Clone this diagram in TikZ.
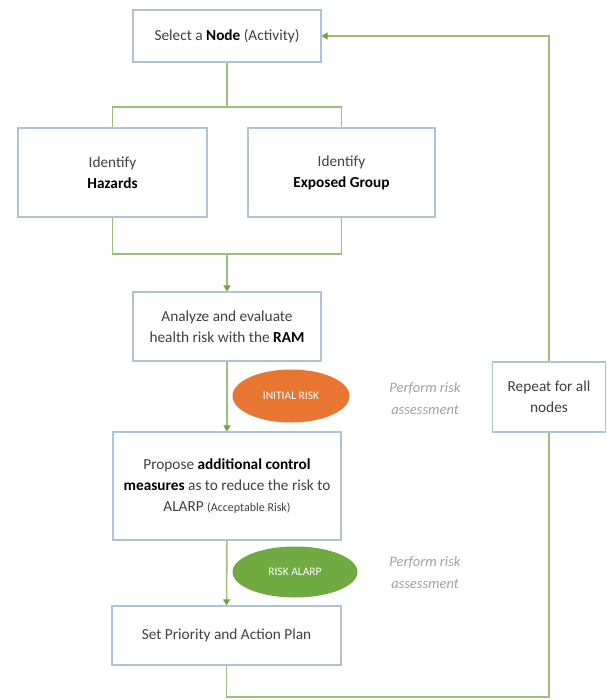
\documentclass[tikz,border=0pt]{standalone}
\usepackage{fontspec}
\setmainfont{Carlito}
\usetikzlibrary{arrows.meta,shapes.geometric}
\definecolor{boxline}{RGB}{176,194,214}
\definecolor{conn}{RGB}{158,190,128}
\definecolor{tipc}{RGB}{110,160,70}
\definecolor{txt}{RGB}{64,64,64}
\definecolor{orangefill}{RGB}{232,118,50}
\definecolor{greenfill}{RGB}{112,170,64}
\definecolor{perfgray}{RGB}{160,160,160}
\begin{document}
\begin{tikzpicture}[x=1pt,y=1pt,
  box/.style={draw=boxline,line width=1.2pt,fill=white,rectangle,align=center,
    inner sep=0pt,text=txt,font=\fontsize{15.3}{21}\selectfont},
  conline/.style={draw=conn,line width=1.5pt},
  arr/.style={conline,-{Triangle[width=7pt,length=6pt,color=tipc]}},
  oval/.style={ellipse,inner sep=0pt,text=white,font=\fontsize{11.5}{13}\selectfont},
  perf/.style={align=center,text=perfgray,font=\fontsize{14.5}{22}\selectfont\itshape}]
\useasboundingbox (0,0) rectangle (606,-700);
\node[box,minimum width=188pt,minimum height=52pt] (sel) at (227,-36) {Select a \textbf{\color{black}Node} (Activity)};
\node[box,minimum width=189pt,minimum height=89pt] (haz) at (112.5,-172.5) {Identify\\\textbf{\color{black}Hazards}};
\node[box,minimum width=187pt,minimum height=89pt] (exp) at (341.5,-172.5) {Identify\\\textbf{\color{black}Exposed Group}};
\node[box,minimum width=188pt,minimum height=69pt] (ana) at (227,-326.5) {Analyze and evaluate\\health risk with the \textbf{\color{black}RAM}};
\node[box,minimum width=228pt,minimum height=108pt] (prop) at (227,-486) {Propose \textbf{\color{black}additional control}\\\textbf{\color{black}measures} as to reduce the risk to\\ALARP {\fontsize{12}{14}\selectfont(Acceptable Risk)}};
\node[box,minimum width=229pt,minimum height=59pt] (setp) at (226.5,-635.5) {Set Priority and Action Plan};
\node[box,minimum width=113pt,minimum height=70pt] (rep) at (549,-397) {Repeat for all\\nodes};
\node[oval,fill=orangefill,minimum width=117pt,minimum height=53pt] (ini) at (291,-396) {INITIAL RISK};
\node[oval,fill=greenfill,minimum width=125pt,minimum height=51pt] (alarp) at (295,-572) {RISK ALARP};
\node[perf] (perf1) at (425,-399) {Perform risk\\assessment};
\node[perf] (perf2) at (425,-573) {Perform risk\\assessment};
\coordinate (jtop) at (227,-107);
\coordinate (jbot) at (227,-254);
\coordinate (cbr) at (549,-697);
\draw[conline] (sel.south) -- (jtop);
\draw[conline] (haz.north) |- (jtop) -| (exp.north);
\draw[conline] (haz.south) |- (jbot) -| (exp.south);
\draw[arr] (jbot) -- (ana.north);
\draw[arr] (ana.south) -- (prop.north);
\draw[arr] (prop.south) -- (setp.north);
\draw[conline] (setp.south) |- (cbr) -- (rep.south);
\draw[arr] (rep.north) |- (sel.east);
\end{tikzpicture}
\end{document}
